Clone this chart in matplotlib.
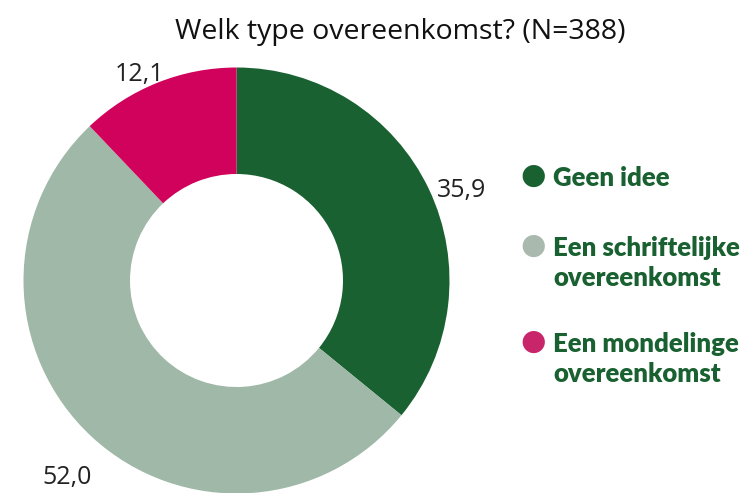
import matplotlib
matplotlib.use("Agg")
import matplotlib.pyplot as plt
import numpy as np

title = "Welk type overeenkomst? (N=388)"
categories = ["Geen idee", "Een schriftelijke\novereenkomst", "Een mondelinge\novereenkomst"]
values = [35.9, 52.0, 12.1]
value_labels = ["35,9", "52,0", "12,1"]
colors = ["#1a6131", "#9fb8a7", "#d1025c"]
legend_colors = ["#1a6131", "#a9b9ae", "#c9256a"]

fig = plt.figure(figsize=(7.5, 4.93), dpi=100)
W, H = 750, 493
cx, cy, R = 236.5, 280.5, 213
ax = fig.add_axes([(cx - R) / W, (H - cy - R) / H, 2 * R / W, 2 * R / H])
wedges, _ = ax.pie(values, colors=colors, startangle=90, counterclock=False,
                   radius=1.0, wedgeprops=dict(width=0.5, linewidth=0))
ax.set_xlim(-1, 1)
ax.set_ylim(-1, 1)
ax.set_aspect("equal")
ax.axis("off")

label_dist = [1.14, 1.22, 1.07]
label_off = [-3.5, 2.0, 3.5]
for w, lab, d, o in zip(wedges, value_labels, label_dist, label_off):
    ang = np.deg2rad((w.theta1 + w.theta2) / 2 + o)
    x, y = d * np.cos(ang), d * np.sin(ang)
    ax.text(x, y, lab, ha="center", va="center",
            fontsize=18, family="Open Sans", color="#222222", clip_on=False)

fig.text(400 / W, 1 - 32 / H, title, ha="center", va="center",
         fontsize=20.5, family="Open Sans", color="#111111")

leg_y = [176, 246, 342]
for c, lab, yy in zip(legend_colors, categories, leg_y):
    fig.text(533 / W, 1 - yy / H, "\u25CF", ha="center", va="center",
             fontsize=21, color=c, family="DejaVu Sans")
    for i, line in enumerate(lab.split("\n")):
        fig.text(553 / W, 1 - (yy + 30 * i) / H, line, ha="left", va="center_baseline",
                 fontsize=18.5, fontweight="heavy", family="Lato", color="#1a6131")

fig.savefig("out.png", dpi=100)
